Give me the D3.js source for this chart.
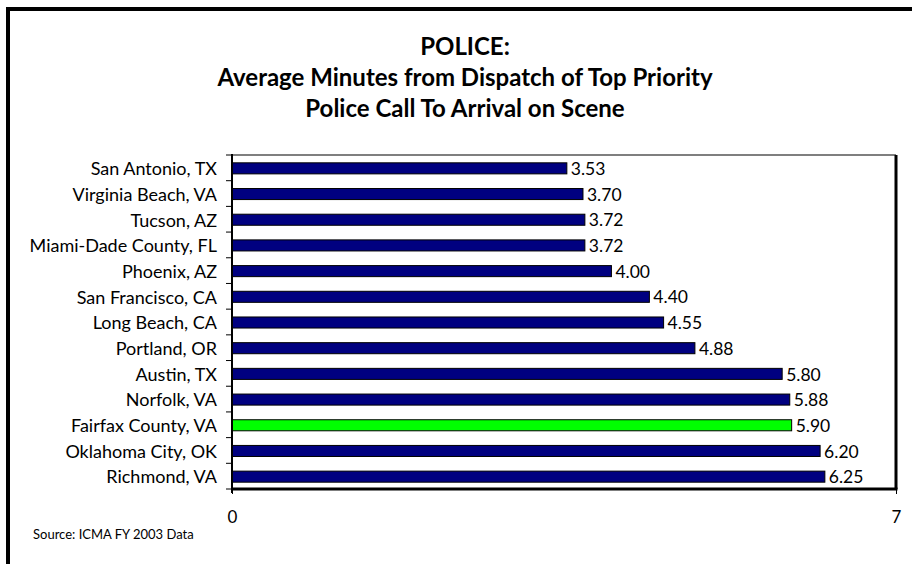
<!DOCTYPE html>
<html>
<head>
<meta charset="utf-8">
<script src="https://cdn.jsdelivr.net/npm/d3@7"></script>
<style>
html,body{margin:0;padding:0;background:#fff;}
svg{display:block;}
</style>
</head>
<body>
<svg id="chart" width="912" height="564"></svg>
<script>
const categories = ["San Antonio, TX","Virginia Beach, VA","Tucson, AZ","Miami-Dade County, FL","Phoenix, AZ","San Francisco, CA","Long Beach, CA","Portland, OR","Austin, TX","Norfolk, VA","Fairfax County, VA","Oklahoma City, OK","Richmond, VA"];
const values = [3.53,3.70,3.72,3.72,4.00,4.40,4.55,4.88,5.80,5.88,5.90,6.20,6.25];
const highlight = ["Fairfax County, VA"];
const xTicks = [0,7];
const titleLines = ["POLICE:","Average Minutes from Dispatch of Top Priority","Police Call To Arrival on Scene"];
const sourceText = "Source: ICMA FY 2003 Data";

const svg = d3.select("#chart");
const font = "Lato, 'Open Sans', sans-serif";

// outer frame (top and left thick lines)
svg.append("rect").attr("x",8).attr("y",9).attr("width",960).attr("height",600)
  .attr("fill","none").attr("stroke","#000").attr("stroke-width",4);

const L = 232, R = 896, T = 155, B = 489;
const x = d3.scaleLinear().domain([0,7]).range([L,R]);
const y = d3.scaleBand().domain(categories).range([T,B]).paddingInner(0.57).paddingOuter(0.285);

// title
svg.append("g").selectAll("text").data(titleLines).join("text")
  .attr("x",465).attr("y",(d,i)=>54.5+i*31)
  .attr("text-anchor","middle")
  .attr("font-family",font).attr("font-weight","bold").attr("font-size",24)
  .attr("fill","#000").text(d=>d);

// plot area border
svg.append("line").attr("x1",L).attr("x2",R).attr("y1",T).attr("y2",T).attr("stroke","#555").attr("stroke-width",1.5);
svg.append("line").attr("x1",R).attr("x2",R).attr("y1",T).attr("y2",B).attr("stroke","#000").attr("stroke-width",3);
svg.append("line").attr("x1",L).attr("x2",R+1.5).attr("y1",B).attr("y2",B).attr("stroke","#000").attr("stroke-width",3);

// bars
svg.append("g").selectAll("rect").data(categories).join("rect")
  .attr("x",x(0)).attr("y",d=>y(d)+0.5)
  .attr("width",(d,i)=>x(values[i])-x(0))
  .attr("height",y.bandwidth())
  .attr("fill",d=>highlight.includes(d)?"#00ff00":"#000080")
  .attr("stroke","#000").attr("stroke-width",1);

// value labels
svg.append("g").selectAll("text").data(categories).join("text")
  .attr("x",(d,i)=>x(values[i])+4)
  .attr("y",d=>y(d)+y.bandwidth()/2+1)
  .attr("dy","0.35em")
  .attr("font-family",font).attr("font-size",17.5).attr("fill","#000")
  .text((d,i)=>values[i].toFixed(2));

// y axis with ticks at band boundaries
const yAxisG = svg.append("g");
yAxisG.append("line").attr("x1",L).attr("x2",L).attr("y1",T-1).attr("y2",B+4).attr("stroke","#000").attr("stroke-width",2);
const bounds = d3.range(categories.length+1).map(i=>T + i*y.step());
yAxisG.selectAll("line.t").data(bounds).join("line").attr("class","t")
  .attr("x1",L-6).attr("x2",L).attr("y1",d=>d).attr("y2",d=>d)
  .attr("stroke","#000").attr("stroke-width",1);
yAxisG.selectAll("text").data(categories).join("text")
  .attr("x",L-15).attr("y",d=>y(d)+y.bandwidth()/2+1).attr("dy","0.35em")
  .attr("text-anchor","end")
  .attr("font-family",font).attr("font-size",18).attr("fill","#000")
  .text(d=>d);

// x axis
const xAxis = d3.axisBottom(x).tickValues(xTicks).tickSize(5).tickPadding(17).tickFormat(d3.format("d"));
const xg = svg.append("g").attr("transform",`translate(0,${B})`).call(xAxis);
xg.select(".domain").remove();
xg.selectAll("text").attr("font-family",font).attr("font-size",17).attr("fill","#000");
xg.selectAll("line").attr("stroke","#000");

// source
svg.append("text").attr("x",33).attr("y",539)
  .attr("font-family",font).attr("font-size",13).attr("fill","#000").text(sourceText);
</script>
</body>
</html>
